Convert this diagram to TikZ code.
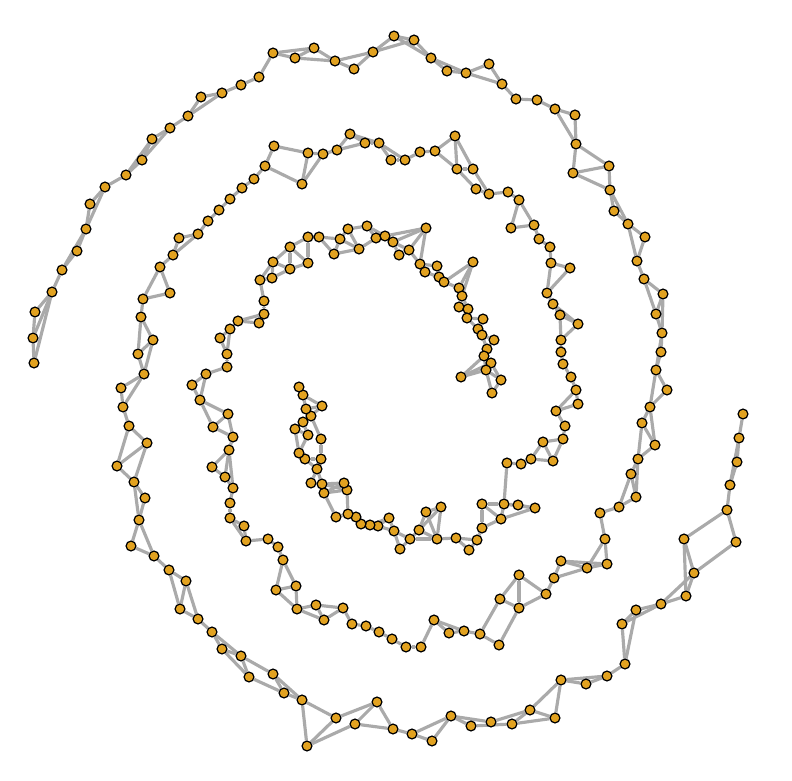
\documentclass[tikz,border=0pt]{standalone}
\usepackage{xcolor}
\usepackage{tikz}

\definecolor{dotfill}{RGB}{226,162,32}
\definecolor{linkgray}{RGB}{170,170,170}

\pgfdeclarelayer{bg}
\pgfsetlayers{bg,main}

\tikzset{
  dot/.style={circle, draw=black, fill=dotfill, line width=0.7pt, inner sep=0pt, minimum size=5.6pt},
  link/.style={draw=linkgray, line width=1.8pt}
}

\begin{document}
\begin{tikzpicture}[x=0.02cm, y=-0.02cm]
        \useasboundingbox (0,0) rectangle (792,781);

        % first arm, outer end on the left
        \foreach \n/\x/\y in {a1/34/363, a2/33/338, a3/35/312, a4/52/292, a5/62/270, a6/77/251,
            a7/86/229, a8/90/204, a9/105/187, a10/126/175, a11/142/160, a12/152/139, a13/170/128,
            a14/188/116, a15/201/97, a16/222/93, a17/241/85, a18/259/77, a19/273/53, a20/295/58,
            a21/314/48, a22/335/61, a23/354/69, a24/373/52, a25/394/36, a26/414/40, a27/431/58,
            a28/447/71, a29/466/73, a30/489/64, a31/502/84, a32/516/99, a33/537/100, a34/555/109,
            a35/575/115, a36/576/144, a37/573/173, a38/609/166, a39/610/190, a40/614/211,
            a41/628/224, a42/645/237, a43/637/261, a44/644/279, a45/663/294, a46/656/314,
            a47/662/333, a48/661/352, a49/656/370, a50/667/390, a51/650/407, a52/642/423,
            a53/655/445, a54/638/459, a55/631/474, a56/636/497, a57/619/507, a58/600/513,
            a59/605/539, a60/607/564, a61/587/568, a62/561/561, a63/554/578, a64/546/594,
            a65/519/575, a66/519/608, a67/500/599, a68/499/645, a69/480/634, a70/464/631,
            a71/449/633, a72/434/620, a73/421/647, a74/406/647, a75/392/639, a76/379/632,
            a77/366/626, a78/352/624, a79/343/608, a80/324/620, a81/316/605, a82/297/609,
            a83/296/586, a84/276/590, a85/283/560, a86/278/547, a87/268/539, a88/246/541,
            a89/244/526, a90/230/518, a91/230/503, a92/233/488, a93/225/477, a94/212/467,
            a95/229/450, a96/233/437, a97/213/427, a98/228/414, a99/200/400, a100/192/385,
            a101/206/374, a102/227/367, a103/227/354, a104/220/338, a105/230/329, a106/238/321,
            a107/259/323, a108/264/314, a109/264/301, a110/260/280, a111/272/278, a112/273/262,
            a113/290/269, a114/290/247, a115/308/263, a116/308/237, a117/319/237, a118/334/254,
            a119/340/239, a120/348/229, a121/359/249, a122/367/226, a123/376/238, a124/385/236,
            a125/393/242, a126/399/255, a127/409/250, a128/426/228, a129/420/264, a130/425/272,
            a131/437/266, a132/439/277, a133/444/282, a134/473/262, a135/459/288, a136/462/296,
            a137/459/307, a138/468/309, a139/467/318, a140/483/319, a141/478/329, a142/482/335,
            a143/494/340, a144/487/349, a145/484/356, a146/491/363, a147/486/370, a148/461/377,
            a149/501/380, a150/492/393}
            \node[dot] (\n) at (\x,\y) {};

        % second arm, outer end on the right
        \foreach \n/\x/\y in {b1/743/414, b2/739/438, b3/737/462, b4/730/485, b5/727/510,
            b6/684/539, b7/736/542, b8/694/573, b9/686/596, b10/661/604, b11/636/610, b12/622/624,
            b13/625/664, b14/607/676, b15/586/684, b16/561/680, b17/555/718, b18/530/710,
            b19/512/724, b20/491/722, b21/471/726, b22/451/716, b23/432/741, b24/412/734,
            b25/393/729, b26/377/702, b27/355/724, b28/336/718, b29/307/746, b30/302/700,
            b31/284/693, b32/273/674, b33/249/677, b34/241/656, b35/222/649, b36/212/632,
            b37/198/619, b38/180/609, b39/186/581, b40/169/570, b41/154/556, b42/131/546,
            b43/139/520, b44/145/498, b45/134/482, b46/117/466, b47/147/443, b48/129/426,
            b49/123/407, b50/121/388, b51/144/374, b52/138/354, b53/153/340, b54/141/317,
            b55/143/299, b56/170/293, b57/160/267, b58/173/255, b59/179/238, b60/198/234,
            b61/208/221, b62/219/210, b63/230/199, b64/242/188, b65/254/179, b66/265/166,
            b67/274/146, b68/302/184, b69/308/153, b70/323/154, b71/337/150, b72/350/134,
            b73/365/143, b74/379/143, b75/391/160, b76/405/160, b77/420/152, b78/435/151,
            b79/455/136, b80/457/169, b81/473/169, b82/476/189, b83/489/194, b84/508/192,
            b85/519/200, b86/511/228, b87/534/225, b88/539/239, b89/550/247, b90/551/263,
            b91/570/268, b92/547/293, b93/553/304, b94/560/315, b95/578/324, b96/561/340,
            b97/561/352, b98/563/364, b99/571/377, b100/576/390, b101/578/404, b102/556/411,
            b103/565/426, b104/563/439, b105/543/442, b106/553/461, b107/531/459, b108/521/464,
            b109/507/463, b110/504/504, b111/482/504, b112/518/505, b113/535/508, b114/501/519,
            b115/482/528, b116/477/540, b117/469/550, b118/456/538, b119/437/539, b120/441/507,
            b121/426/512, b122/419/530, b123/410/539, b124/400/549, b125/394/531, b126/389/518,
            b127/378/526, b128/370/525, b129/361/524, b130/356/517, b131/348/514, b132/336/517,
            b133/324/493, b134/347/490, b135/344/483, b136/322/484, b137/311/483, b138/317/469,
            b139/321/459, b140/305/459, b141/299/453, b142/321/439, b143/308/435, b144/295/429,
            b145/303/422, b146/311/416, b147/306/409, b148/322/406, b149/303/395, b150/299/387}
            \node[dot] (\n) at (\x,\y) {};

        \begin{pgfonlayer}{bg}
        % links of the first arm
        \foreach \u/\v in {a1/a2, a1/a4, a2/a3, a2/a4, a3/a4, a4/a5, a5/a6, a5/a7, a6/a7, a7/a8,
            a7/a9, a8/a9, a9/a10, a10/a11, a10/a12, a11/a12, a11/a13, a12/a13, a13/a14, a14/a15,
            a14/a16, a15/a16, a16/a17, a17/a18, a18/a19, a19/a20, a19/a21, a20/a21, a20/a22,
            a21/a22, a22/a23, a22/a24, a23/a24, a24/a25, a24/a26, a25/a26, a25/a27, a26/a27,
            a27/a28, a27/a29, a28/a29, a29/a30, a29/a31, a30/a31, a31/a32, a32/a33, a33/a34,
            a34/a35, a34/a36, a35/a36, a36/a37, a36/a38, a37/a38, a37/a39, a38/a39, a39/a40,
            a39/a41, a40/a41, a41/a42, a41/a43, a42/a43, a43/a44, a44/a45, a44/a46, a45/a46,
            a45/a47, a46/a47, a47/a48, a47/a49, a48/a49, a49/a50, a49/a51, a50/a51, a51/a52,
            a51/a53, a52/a53, a52/a54, a53/a54, a54/a55, a54/a56, a55/a56, a55/a57, a56/a57,
            a57/a58, a58/a59, a59/a60, a59/a61, a60/a61, a60/a62, a61/a62, a61/a63, a62/a63,
            a63/a64, a64/a65, a64/a66, a65/a66, a65/a67, a66/a67, a66/a68, a67/a69, a68/a69,
            a69/a70, a70/a71, a70/a72, a71/a72, a72/a73, a73/a74, a74/a75, a75/a76, a76/a77,
            a77/a78, a78/a79, a79/a80, a79/a81, a80/a81, a80/a82, a81/a82, a82/a83, a82/a84,
            a83/a84, a83/a85, a84/a85, a85/a86, a86/a87, a87/a88, a88/a89, a88/a90, a89/a90,
            a90/a91, a91/a92, a92/a93, a92/a95, a93/a94, a93/a95, a94/a95, a95/a96, a96/a97,
            a96/a98, a97/a98, a97/a99, a98/a99, a99/a100, a99/a101, a100/a101, a101/a102,
            a102/a103, a103/a104, a103/a105, a104/a105, a105/a106, a106/a107, a106/a108,
            a107/a108, a108/a109, a109/a110, a110/a111, a110/a112, a111/a112, a111/a113,
            a112/a113, a112/a114, a113/a114, a113/a115, a114/a115, a114/a116, a115/a116,
            a116/a117, a117/a118, a117/a119, a118/a119, a118/a121, a119/a120, a119/a121,
            a120/a121, a120/a122, a121/a123, a122/a123, a122/a124, a123/a124, a124/a125,
            a124/a128, a125/a128, a125/a126, a125/a127, a127/a128, a127/a129, a128/a129,
            a129/a130, a129/a131, a130/a132, a131/a132, a132/a133, a133/a134, a133/a135,
            a134/a135, a134/a136, a135/a136, a136/a137, a136/a138, a137/a138, a138/a139,
            a139/a140, a139/a141, a140/a141, a141/a142, a142/a143, a142/a144, a143/a144,
            a144/a145, a145/a146, a145/a147, a145/a148, a146/a147, a146/a148, a147/a148,
            a147/a149, a146/a149, a147/a150, a149/a150}
            \draw[link] (\u) -- (\v);

        % links of the second arm
        \foreach \u/\v in {b1/b2, b2/b3, b2/b4, b3/b4, b4/b5, b5/b6, b5/b7, b6/b8, b6/b9, b7/b8,
            b8/b9, b8/b10, b9/b10, b10/b11, b10/b12, b11/b12, b11/b13, b12/b13, b13/b14, b14/b15,
            b14/b16, b15/b16, b16/b17, b16/b18, b17/b18, b17/b19, b18/b19, b18/b20, b19/b21,
            b20/b22, b21/b22, b22/b23, b22/b24, b23/b24, b24/b25, b25/b26, b25/b27, b26/b27,
            b26/b28, b27/b29, b28/b29, b28/b30, b29/b30, b30/b31, b30/b32, b31/b32, b31/b33,
            b32/b34, b33/b34, b33/b35, b34/b35, b34/b36, b35/b36, b36/b37, b37/b38, b37/b39,
            b38/b39, b38/b40, b39/b40, b40/b41, b41/b42, b41/b43, b42/b43, b43/b44, b43/b45,
            b44/b45, b45/b46, b45/b47, b46/b47, b46/b48, b47/b48, b48/b49, b49/b50, b49/b51,
            b50/b51, b51/b52, b51/b53, b52/b53, b52/b54, b53/b54, b54/b55, b55/b56, b55/b57,
            b56/b57, b57/b58, b58/b59, b58/b60, b59/b60, b60/b61, b61/b62, b62/b63, b63/b64,
            b64/b65, b65/b66, b66/b67, b66/b68, b67/b69, b68/b69, b68/b70, b69/b70, b70/b71,
            b71/b72, b71/b73, b72/b73, b72/b74, b73/b74, b74/b75, b74/b76, b75/b76, b76/b77,
            b77/b78, b78/b79, b78/b80, b79/b80, b79/b81, b80/b81, b80/b82, b81/b83, b82/b83,
            b83/b84, b84/b85, b85/b86, b85/b87, b86/b87, b87/b88, b88/b89, b89/b90, b90/b91,
            b90/b92, b91/b92, b92/b93, b93/b94, b93/b95, b94/b95, b94/b96, b95/b96, b96/b97,
            b97/b98, b98/b99, b99/b100, b100/b101, b100/b102, b101/b102, b102/b103, b103/b104,
            b104/b105, b104/b106, b105/b106, b105/b107, b106/b107, b107/b108, b108/b109,
            b109/b110, b110/b111, b110/b112, b110/b113, b110/b114, b111/b114, b111/b115,
            b112/b113, b113/b114, b114/b115, b115/b116, b116/b117, b116/b118, b117/b118,
            b118/b119, b119/b120, b119/b121, b119/b122, b120/b121, b120/b122, b121/b122,
            b122/b123, b119/b123, b123/b124, b123/b125, b124/b125, b125/b126, b125/b127,
            b126/b127, b126/b128, b127/b128, b128/b129, b129/b130, b130/b131, b131/b132,
            b131/b134, b132/b133, b133/b134, b133/b135, b133/b136, b134/b135, b134/b136,
            b135/b136, b136/b137, b136/b138, b137/b138, b138/b139, b138/b140, b139/b140,
            b140/b141, b139/b142, b141/b143, b141/b144, b143/b144, b143/b145, b144/b145,
            b145/b146, b142/b146, b146/b147, b146/b148, b147/b148, b147/b149, b148/b149,
            b149/b150}
            \draw[link] (\u) -- (\v);
        \end{pgfonlayer}
    \end{tikzpicture}
\end{document}
